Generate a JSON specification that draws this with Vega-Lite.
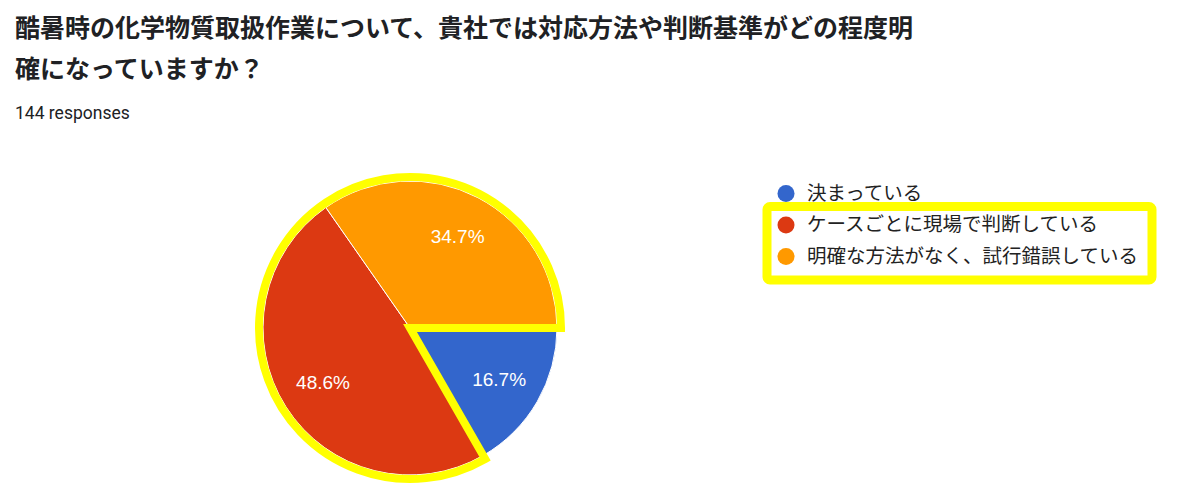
{
  "$schema": "https://vega.github.io/schema/vega-lite/v6.json",
  "background": "white",
  "padding": {"left": 15, "top": 16, "right": 10, "bottom": 10},
  "title": {
    "text": ["酷暑時の化学物質取扱作業について、貴社では対応方法や判断基準がどの程度明", "確になっていますか？"],
    "subtitle": "144 responses",
    "anchor": "start",
    "dx": -228,
    "font": "Noto Sans CJK JP",
    "fontSize": 25,
    "fontWeight": "bold",
    "color": "#202124",
    "lineHeight": 41,
    "subtitleFont": "Roboto",
    "subtitleFontSize": 17.5,
    "subtitleColor": "#202124",
    "subtitlePadding": 22,
    "offset": 39
  },
  "datasets": {
    "answers": [
      {"answer": "決まっている", "share": 0.167, "rank": 1},
      {"answer": "ケースごとに現場で判断している", "share": 0.486, "rank": 2},
      {"answer": "明確な方法がなく、試行錯誤している", "share": 0.347, "rank": 3}
    ],
    "highlight": [
      {"part": "rest", "share": 0.167, "rank": 1},
      {"part": "highlight", "share": 0.833, "rank": 2}
    ],
    "box": [
      {"from": "ケースごとに現場で判断している", "to": "明確な方法がなく、試行錯誤している"}
    ]
  },
  "spacing": 185,
  "hconcat": [
    {
      "width": 300,
      "height": 300,
      "layer": [
        {
          "data": {"name": "answers"},
          "mark": {"type": "arc", "outerRadius": 147, "stroke": "#ffffff", "strokeWidth": 1},
          "encoding": {
            "theta": {"field": "share", "type": "quantitative", "stack": true, "scale": {"range": [1.5708, 7.854]}},
            "order": {"field": "rank"},
            "color": {
              "field": "answer",
              "type": "nominal",
              "scale": {
                "domain": ["決まっている", "ケースごとに現場で判断している", "明確な方法がなく、試行錯誤している"],
                "range": ["#3366cc", "#dc3912", "#ff9900"]
              },
              "legend": null
            }
          }
        },
        {
          "data": {"name": "answers"},
          "mark": {"type": "text", "radius": 103, "color": "#ffffff", "font": "Liberation Sans", "fontSize": 19},
          "encoding": {
            "theta": {"field": "share", "type": "quantitative", "stack": true},
            "order": {"field": "rank"},
            "text": {"field": "share", "type": "quantitative", "format": ".1%"}
          }
        },
        {
          "data": {"name": "highlight"},
          "mark": {"type": "arc", "outerRadius": 151, "fillOpacity": 0, "stroke": "#ffff00", "strokeWidth": 8, "strokeJoin": "miter"},
          "encoding": {
            "theta": {"field": "share", "type": "quantitative", "stack": true},
            "order": {"field": "rank"},
            "strokeOpacity": {"condition": {"test": "datum.part === 'highlight'", "value": 1}, "value": 0}
          }
        }
      ]
    },
    {
      "width": 366,
      "height": 300,
      "layer": [
        {
          "data": {"name": "box"},
          "mark": {"type": "rect", "fillOpacity": 0, "stroke": "#ffff00", "strokeWidth": 9, "cornerRadius": 3, "xOffset": -19, "yOffset": -18.5, "y2Offset": 23.5},
          "encoding": {
            "x": {"datum": 0, "type": "quantitative"},
            "x2": {"datum": 1},
            "y": {"field": "from", "type": "nominal", "axis": null},
            "y2": {"field": "to"}
          }
        },
        {
          "data": {"name": "answers"},
          "mark": {"type": "circle", "size": 290, "opacity": 1},
          "encoding": {
            "x": {"datum": 0, "type": "quantitative"},
            "y": {"field": "answer", "type": "nominal", "axis": null},
            "color": {"field": "answer", "type": "nominal", "legend": null}
          }
        },
        {
          "data": {"name": "answers"},
          "mark": {"type": "text", "align": "left", "dx": 21, "font": "Noto Sans CJK JP", "fontSize": 19.5, "color": "#222222"},
          "encoding": {
            "x": {"datum": 0, "type": "quantitative"},
            "y": {"field": "answer", "type": "nominal", "axis": null},
            "text": {"field": "answer"}
          }
        }
      ],
      "resolve": {"scale": {"x": "shared", "y": "shared"}},
      "encoding": {
        "x": {"datum": 0, "type": "quantitative", "axis": null, "scale": {"domain": [0, 1], "nice": false, "zero": false}},
        "y": {
          "field": "answer",
          "type": "nominal",
          "axis": null,
          "scale": {
            "type": "point",
            "domain": ["決まっている", "ケースごとに現場で判断している", "明確な方法がなく、試行錯誤している"],
            "range": [15.5, 78.5],
            "padding": 0
          }
        }
      }
    }
  ],
  "config": {"view": {"stroke": null}}
}
